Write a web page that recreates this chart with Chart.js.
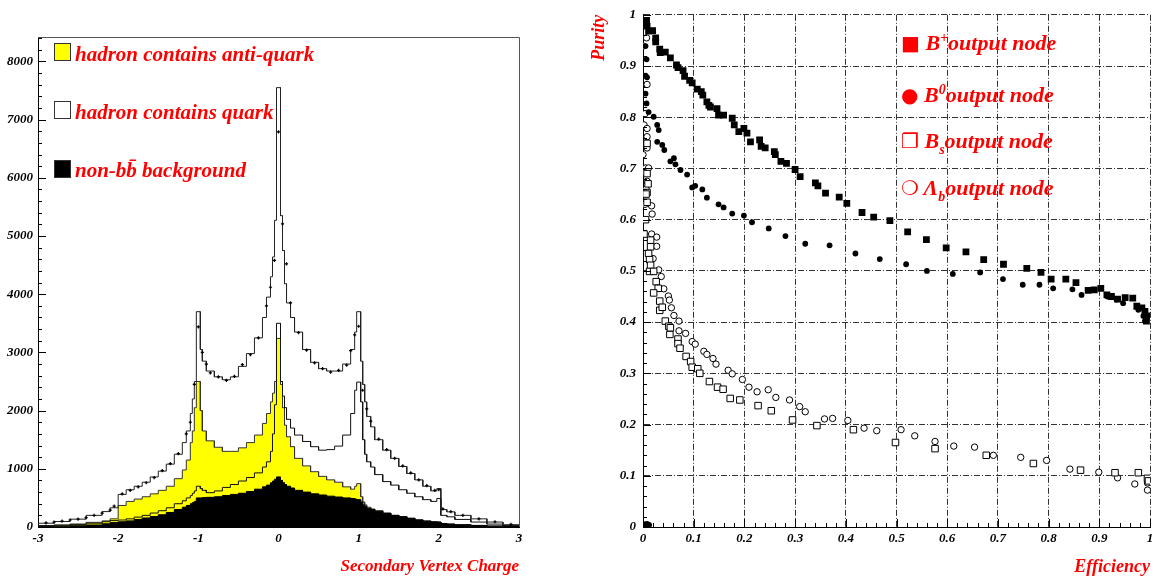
<!DOCTYPE html>
<html>
<head>
<meta charset="utf-8">
<script src="https://cdn.jsdelivr.net/npm/chart.js@4.4.0/dist/chart.umd.min.js"></script>
<style>
  html, body { margin: 0; padding: 0; background: #fff; }
  #wrap { position: relative; width: 1158px; height: 583px; overflow: hidden; }
  canvas { position: absolute; top: 0; }
  #charge { left: 0; }
  #purity { left: 579px; }
  .txt { position: absolute; font-family: "Liberation Serif", serif; font-weight: bold; font-style: italic;
         color: #ff0000; font-size: 21px; line-height: 20px; white-space: nowrap; }
  .rl { font-size: 22px; }
  .box { position: absolute; box-sizing: border-box; border: 1px solid #333; width: 17px; height: 18px; }
  .dg { font-family: "DejaVu Sans", sans-serif; font-style: normal; font-weight: normal; font-size: 20px; }
  .txt sup { font-size: 14px; vertical-align: 8px; line-height: 0; }
  .txt sub { font-size: 14px; vertical-align: -6px; line-height: 0; }
</style>
</head>
<body>
<div id="wrap">
  <canvas id="charge" width="579" height="583"></canvas>
  <canvas id="purity" width="579" height="583"></canvas>

  <div class="box" style="left:54px;top:43px;background:#ffff00;"></div>
  <div class="txt" style="left:75px;top:44px;">hadron contains anti-quark</div>
  <div class="box" style="left:54px;top:101px;background:#fff;"></div>
  <div class="txt" style="left:75px;top:102px;">hadron contains quark</div>
  <div class="box" style="left:54px;top:160px;background:#000;"></div>
  <div class="txt" style="left:75px;top:160px;">non-bb&#772; background</div>

  <div class="txt rl" style="left:901px;top:33px;"><span class="dg">&#9632;</span> B<sup>+</sup>output node</div>
  <div class="txt rl" style="left:901px;top:85px;"><span class="dg">&#9679;</span> B<sup>0</sup>output node</div>
  <div class="txt rl" style="left:901px;top:131px;"><span class="dg">&#10064;</span> B<sub>s</sub>output node</div>
  <div class="txt rl" style="left:901px;top:178px;"><span class="dg">&#10061;</span> &Lambda;<sub>b</sub>output node</div>
</div>

<script>
// ---- left panel: secondary vertex charge histograms (bin left edges + contents) ----
const binEdges = [-3.0, -2.8, -2.6, -2.4, -2.2, -2.1, -2.0, -1.9, -1.8, -1.7,
  -1.6, -1.5, -1.4, -1.3, -1.2, -1.15, -1.1, -1.075, -1.05, -1.025,
  -0.975, -0.95, -0.9, -0.8, -0.7, -0.6, -0.5, -0.4, -0.3, -0.2,
  -0.15, -0.1, -0.075, -0.05, -0.025, 0.025, 0.05, 0.075, 0.1, 0.15,
  0.2, 0.3, 0.4, 0.5, 0.6, 0.7, 0.8, 0.9, 0.95, 0.975,
  1.025, 1.05, 1.075, 1.1, 1.15, 1.2, 1.3, 1.4, 1.5, 1.6,
  1.7, 1.8, 1.9, 1.975, 2.025, 2.1, 2.2, 2.4, 2.6, 2.8, 3.0];

const totalMC = [65, 95, 135, 200, 265, 330, 560, 640, 700, 770,
  860, 960, 1080, 1250, 1450, 1650, 1950, 2200, 2500, 3700,
  3050, 2850, 2680, 2580, 2530, 2580, 2760, 2980, 3250, 3600,
  3950, 4300, 4640, 5270, 7550, 5350, 4750, 4180, 3850, 3600,
  3350, 3050, 2830, 2720, 2680, 2680, 2800, 3050, 3350, 3700,
  2850, 2450, 2150, 1900, 1720, 1500, 1320, 1180, 1040, 920,
  810, 700, 620, 660, 300, 260, 200, 140, 85, 40];

const quarkHist = [20, 30, 45, 65, 90, 110, 120, 140, 170, 200,
  240, 280, 330, 400, 450, 500, 540, 580, 620, 700,
  660, 630, 590, 620, 680, 730, 790, 850, 930, 1030,
  1120, 1300, 1600, 2100, 3500, 2500, 2250, 2050, 1850, 1700,
  1580, 1470, 1380, 1320, 1330, 1390, 1580, 1950, 2350, 2490,
  2150, 1500, 1250, 1120, 1030, 900, 780, 720, 640, 580,
  520, 470, 440, 490, 200, 175, 130, 85, 50, 25];

const antiQuarkHist = [25, 35, 50, 80, 105, 140, 370, 440, 480, 520,
  570, 630, 700, 830, 980, 1150, 1450, 1650, 2050, 2500,
  2000, 1650, 1480, 1370, 1300, 1300, 1360, 1450, 1580, 1780,
  1950, 2150, 2300, 2500, 3240, 2450, 2050, 1750, 1550, 1380,
  1180, 1050, 950, 870, 810, 770, 690, 650, 700, 745,
  520, 430, 380, 340, 310, 280, 240, 200, 180, 150,
  125, 105, 90, 85, 60, 50, 38, 28, 18, 10];

const nonBBHist = [10, 15, 22, 35, 55, 75, 90, 105, 130, 155,
  180, 210, 250, 300, 340, 370, 400, 420, 440, 500,
  500, 505, 510, 520, 540, 560, 580, 610, 650, 690,
  720, 760, 790, 820, 860, 800, 760, 730, 700, 670,
  630, 600, 570, 550, 530, 515, 500, 490, 480, 470,
  430, 380, 350, 320, 300, 270, 235, 200, 175, 150,
  120, 100, 88, 85, 60, 50, 38, 25, 15, 8];

const dataCharge = [-2.9, -2.8, -2.7, -2.6, -2.5, -2.4, -2.3, -2.2, -2.1, -2.05,
  -1.95, -1.85, -1.75, -1.65, -1.55, -1.45, -1.35, -1.25, -1.15, -1.1,
  -1.05, -1.0, -0.95, -0.9, -0.85, -0.75, -0.65, -0.55, -0.45, -0.35,
  -0.25, -0.15, -0.1, -0.05, 0, 0.05, 0.1, 0.15, 0.25, 0.35,
  0.45, 0.55, 0.65, 0.75, 0.85, 0.9, 0.95, 1.0, 1.05, 1.1,
  1.15, 1.25, 1.35, 1.45, 1.55, 1.65, 1.75, 1.85, 1.95, 2.0,
  2.05, 2.15, 2.3, 2.5, 2.7, 2.9];
const dataCounts = [70, 85, 100, 120, 135, 160, 200, 240, 290, 360,
  570, 630, 690, 760, 850, 970, 1090, 1260, 1600, 1800,
  2450, 3440, 3000, 2800, 2650, 2580, 2520, 2590, 2790, 2960,
  3250, 3800, 4120, 4580, 6790, 5210, 4520, 3850, 3340, 3040,
  2820, 2720, 2660, 2690, 2780, 3030, 3300, 3450, 2350, 2030,
  1820, 1510, 1330, 1180, 1050, 930, 810, 710, 630, 640,
  310, 265, 200, 140, 90, 45];

const countTicks = [0, 1000, 2000, 3000, 4000, 5000, 6000, 7000, 8000];
const chargeTicks = [-3, -2, -1, 0, 1, 2, 3];

// ---- right panel: purity vs efficiency for each output node, [efficiency, purity] ----
const bPlusNode = [[0.007,0.989],[0.008,0.978],[0.011,0.968],[0.019,0.969],[0.025,0.955],[0.025,0.947],
  [0.033,0.933],[0.034,0.926],[0.044,0.927],[0.054,0.916],[0.066,0.902],[0.069,0.897],[0.079,0.891],
  [0.082,0.880],[0.092,0.872],[0.097,0.867],[0.107,0.855],[0.115,0.850],[0.118,0.843],[0.126,0.830],
  [0.130,0.823],[0.133,0.820],[0.146,0.817],[0.149,0.804],[0.159,0.804],[0.176,0.798],[0.180,0.785],
  [0.189,0.772],[0.199,0.778],[0.205,0.769],[0.212,0.752],[0.230,0.756],[0.233,0.743],[0.241,0.740],
  [0.259,0.733],[0.261,0.727],[0.272,0.714],[0.283,0.710],[0.300,0.698],[0.310,0.684],[0.340,0.672],
  [0.345,0.666],[0.360,0.652],[0.387,0.644],[0.402,0.632],[0.432,0.614],[0.455,0.605],[0.487,0.598],
  [0.522,0.576],[0.559,0.561],[0.598,0.545],[0.637,0.537],[0.672,0.522],[0.711,0.513],[0.757,0.505],
  [0.785,0.497],[0.805,0.484],[0.834,0.484],[0.854,0.477],[0.878,0.462],[0.890,0.463],[0.903,0.466],
  [0.915,0.453],[0.924,0.450],[0.936,0.445],[0.951,0.448],[0.966,0.447],[0.974,0.431],[0.984,0.428],
  [0.990,0.421],[0.997,0.412],[0.993,0.402],[0.003,0.004]];

const bZeroNode = [[0.005,0.939],[0.007,0.913],[0.005,0.881],[0.008,0.878],[0.005,0.846],[0.007,0.827],
  [0.011,0.810],[0.021,0.801],[0.028,0.785],[0.031,0.775],[0.028,0.752],[0.038,0.746],[0.042,0.736],
  [0.054,0.714],[0.061,0.720],[0.064,0.708],[0.074,0.697],[0.087,0.688],[0.097,0.663],[0.103,0.666],
  [0.117,0.659],[0.126,0.643],[0.149,0.630],[0.159,0.624],[0.176,0.612],[0.199,0.608],[0.215,0.595],
  [0.248,0.583],[0.281,0.568],[0.320,0.553],[0.368,0.550],[0.419,0.534],[0.467,0.523],[0.519,0.513],
  [0.560,0.500],[0.611,0.494],[0.665,0.497],[0.710,0.484],[0.749,0.473],[0.782,0.473],[0.809,0.466],
  [0.847,0.464],[0.865,0.453],[0.916,0.450],[0.934,0.444],[0.947,0.437],[0.977,0.424],[0.987,0.412],
  [0.990,0.402],[0.008,0.006],[0.012,0.004]];

const bSNode = [[0.002,0.572],[0.008,0.634],[0.008,0.749],[0.008,0.653],[0.005,0.600],[0.006,0.650],
  [0.010,0.670],[0.008,0.690],[0.015,0.560],[0.015,0.547],[0.011,0.534],[0.013,0.522],[0.015,0.511],
  [0.013,0.499],[0.021,0.499],[0.026,0.479],[0.030,0.466],[0.021,0.457],[0.033,0.441],[0.033,0.423],
  [0.038,0.429],[0.044,0.402],[0.051,0.392],[0.053,0.376],[0.054,0.389],[0.069,0.367],[0.069,0.358],
  [0.073,0.349],[0.085,0.333],[0.094,0.323],[0.097,0.312],[0.108,0.309],[0.112,0.300],[0.131,0.284],
  [0.147,0.273],[0.158,0.269],[0.172,0.251],[0.191,0.248],[0.227,0.237],[0.253,0.227],[0.295,0.209],
  [0.343,0.198],[0.415,0.190],[0.498,0.165],[0.576,0.153],[0.677,0.140],[0.770,0.124],[0.863,0.111],
  [0.931,0.106],[0.977,0.106],[0.995,0.095],[0.997,0.090]];

const lambdaBNode = [[0.000,0.939],[0.007,0.955],[0.008,0.864],[0.004,0.807],[0.002,0.785],[0.008,0.778],
  [0.008,0.762],[0.008,0.740],[0.000,0.727],[0.005,0.701],[0.011,0.701],[0.002,0.692],[0.008,0.675],
  [0.004,0.630],[0.006,0.660],[0.017,0.627],[0.018,0.611],[0.017,0.572],[0.027,0.566],[0.027,0.548],
  [0.020,0.524],[0.031,0.502],[0.036,0.489],[0.041,0.465],[0.050,0.451],[0.052,0.443],[0.056,0.428],
  [0.061,0.413],[0.071,0.402],[0.071,0.383],[0.084,0.378],[0.097,0.362],[0.103,0.357],[0.120,0.343],
  [0.126,0.337],[0.138,0.329],[0.144,0.318],[0.168,0.306],[0.176,0.299],[0.196,0.288],[0.209,0.273],
  [0.225,0.264],[0.247,0.268],[0.262,0.253],[0.289,0.248],[0.309,0.235],[0.320,0.225],[0.358,0.211],
  [0.374,0.212],[0.404,0.208],[0.436,0.193],[0.461,0.188],[0.509,0.190],[0.536,0.178],[0.576,0.167],
  [0.613,0.158],[0.654,0.156],[0.691,0.140],[0.745,0.136],[0.796,0.130],[0.842,0.113],[0.899,0.107],
  [0.936,0.096],[0.970,0.084],[0.995,0.086],[0.995,0.072]];

const tickFont = { family: '"Liberation Serif", serif', style: 'italic', weight: 'bold', size: 13 };
const titleFont = (size) => ({ family: '"Liberation Serif", serif', style: 'italic', weight: 'bold', size: size });

// histogram outline: each bin contributes its left and right corner
function histPoints(vals) {
  const pts = [];
  vals.forEach((v, i) => {
    pts.push({ x: binEdges[i], y: v });
    pts.push({ x: binEdges[i + 1], y: v });
  });
  return pts;
}
const toXY = (arr) => arr.map(p => ({ x: p[0], y: p[1] }));

// ROOT style ticks drawn inside the frame
const insideTicks = {
  id: 'insideTicks',
  afterDatasetsDraw(chart, args, opts) {
    const ctx = chart.ctx, a = chart.chartArea;
    ctx.save();
    ctx.strokeStyle = '#000';
    ctx.lineWidth = 1;
    ctx.beginPath();
    (opts.axes || []).forEach(t => {
      const s = chart.scales[t.id];
      const n = Math.round((s.max - s.min) / t.minor);
      for (let k = 0; k <= n; k++) {
        const v = s.min + k * t.minor;
        const r = v / t.major;
        const len = Math.abs(r - Math.round(r)) < 1e-6 ? 8 : 4;
        const p = Math.round(s.getPixelForValue(v)) + 0.5;
        if (t.id === 'y') { ctx.moveTo(a.left, p); ctx.lineTo(a.left + len, p); }
        else { ctx.moveTo(p, a.bottom); ctx.lineTo(p, a.bottom - len); }
      }
    });
    ctx.stroke();
    if (opts.frame) {
      ctx.strokeStyle = '#555';
      ctx.beginPath();
      ctx.moveTo(Math.round(a.left), Math.round(a.top) + 0.5);
      ctx.lineTo(Math.round(a.right) + 0.5, Math.round(a.top) + 0.5);
      ctx.lineTo(Math.round(a.right) + 0.5, Math.round(a.bottom));
      ctx.stroke();
    }
    ctx.restore();
  }
};

new Chart(document.getElementById('charge'), {
  type: 'line',
  data: {
    datasets: [
      { label: 'data', data: dataCharge.map((x, i) => ({ x: x, y: dataCounts[i] })), showLine: false,
        pointStyle: 'cross', pointRadius: 1.6, borderColor: '#000', borderWidth: 1.2 },
      { label: 'total', data: histPoints(totalMC), borderColor: '#222',
        borderWidth: 1, pointRadius: 0, fill: false },
      { label: 'hadron contains quark', data: histPoints(quarkHist), borderColor: '#111',
        borderWidth: 1, pointRadius: 0, fill: false },
      { label: 'non-bb background', data: histPoints(nonBBHist), borderColor: '#000',
        backgroundColor: '#000', borderWidth: 1, pointRadius: 0, fill: 'origin' },
      { label: 'hadron contains anti-quark', data: histPoints(antiQuarkHist), borderColor: '#333',
        backgroundColor: '#ffff00', borderWidth: 1, pointRadius: 0, fill: 'origin' }
    ]
  },
  options: {
    responsive: false,
    animation: false,
    devicePixelRatio: 1,
    elements: { line: { tension: 0 } },
    layout: { padding: { left: 0, top: 37, right: 60, bottom: 0 } },
    plugins: {
      legend: { display: false },
      tooltip: { enabled: false },
      insideTicks: { axes: [{ id: 'y', major: 1000, minor: 200 }], frame: true }
    },
    scales: {
      x: {
        type: 'linear', min: -3, max: 3,
        afterFit: (s) => { s.height = 56; },
        afterBuildTicks: (s) => { s.ticks = chargeTicks.map(v => ({ value: v })); },
        grid: { display: false, drawTicks: false },
        border: { display: true, color: '#000', width: 1 },
        ticks: { autoSkip: false, padding: 4, color: '#000', font: tickFont,
                 callback: (v) => String(v) },
        title: { display: true, text: 'Secondary Vertex Charge', align: 'end', color: '#ff0000',
                 font: titleFont(17), padding: { top: 0, bottom: 6 } }
      },
      y: {
        min: 0, max: 8420,
        afterFit: (s) => { s.width = 38; },
        afterBuildTicks: (s) => { s.ticks = countTicks.map(v => ({ value: v })); },
        grid: { display: false, drawTicks: false },
        border: { display: true, color: '#000', width: 1 },
        ticks: { autoSkip: false, padding: 5, color: '#000',
                 font: tickFont, callback: (v) => String(v) }
      }
    }
  },
  plugins: [insideTicks]
});

new Chart(document.getElementById('purity'), {
  type: 'scatter',
  data: {
    datasets: [
      { label: 'B+ output node', data: toXY(bPlusNode), pointStyle: 'rect', pointRadius: 4.8,
        backgroundColor: '#000', borderColor: '#000', borderWidth: 0 },
      { label: 'B0 output node', data: toXY(bZeroNode), pointStyle: 'circle', pointRadius: 2.9,
        backgroundColor: '#000', borderColor: '#000', borderWidth: 0 },
      { label: 'Bs output node', data: toXY(bSNode), pointStyle: 'rect', pointRadius: 4.6,
        backgroundColor: '#fff', borderColor: '#000', borderWidth: 1 },
      { label: 'Lambda_b output node', data: toXY(lambdaBNode), pointStyle: 'circle', pointRadius: 3.2,
        backgroundColor: '#fff', borderColor: '#000', borderWidth: 1 }
    ]
  },
  options: {
    responsive: false,
    animation: false,
    devicePixelRatio: 1,
    layout: { padding: { left: 0, top: 9, right: 8, bottom: 0 } },
    plugins: {
      legend: { display: false },
      tooltip: { enabled: false },
      insideTicks: { axes: [{ id: 'y', major: 0.1, minor: 0.02 }, { id: 'x', major: 0.1, minor: 0.02 }] }
    },
    scales: {
      x: {
        type: 'linear', min: 0, max: 1,
        afterFit: (s) => { s.height = 56; },
        grid: { display: true, drawTicks: false, color: '#333', lineWidth: 1 },
        border: { display: true, color: '#000', width: 1, dash: [6, 2, 1, 2] },
        ticks: { stepSize: 0.1, autoSkip: false, padding: 4, color: '#000', font: tickFont,
                 callback: (v) => String(+v.toFixed(1)) },
        title: { display: true, text: 'Efficiency', align: 'end', color: '#ff0000',
                 font: titleFont(18), padding: { top: 0, bottom: 5 } }
      },
      y: {
        min: 0, max: 1,
        afterFit: (s) => { s.width = 64; },
        grid: { display: true, drawTicks: false, color: '#333', lineWidth: 1 },
        border: { display: true, color: '#000', width: 1, dash: [6, 2, 1, 2] },
        ticks: { stepSize: 0.1, autoSkip: false, padding: 7, color: '#000', font: tickFont,
                 callback: (v) => String(+v.toFixed(1)) },
        title: { display: true, text: 'Purity', align: 'end', color: '#ff0000',
                 font: titleFont(18), padding: { top: 10, bottom: 0 } }
      }
    }
  },
  plugins: [insideTicks]
});
</script>
</body>
</html>
